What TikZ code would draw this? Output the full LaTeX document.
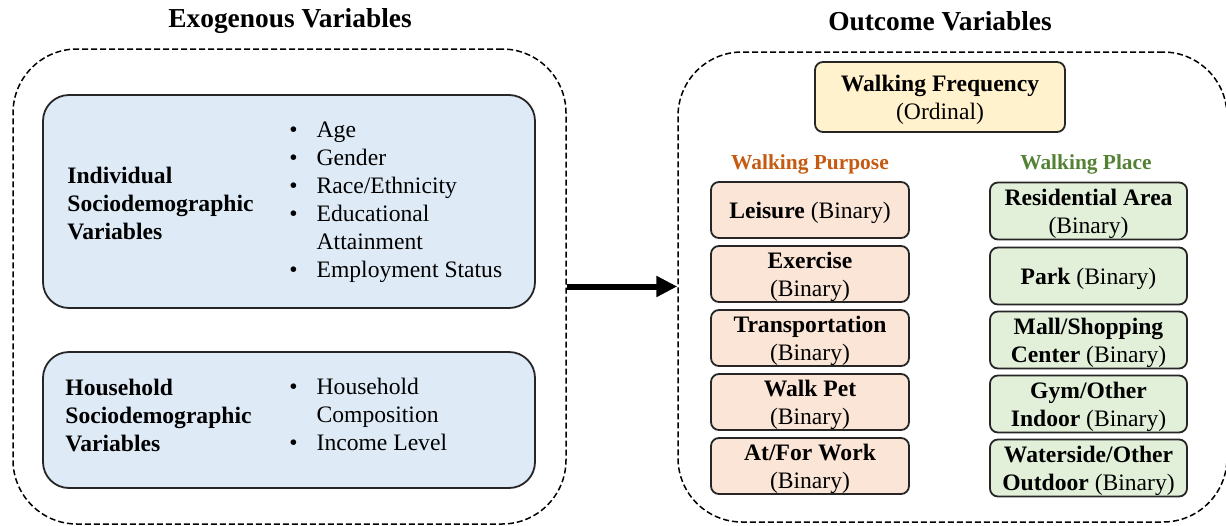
\documentclass[tikz,border=0pt]{standalone}
\usepackage{fontspec}
\setmainfont{Liberation Serif}
\usetikzlibrary{arrows.meta}

\definecolor{exofill}{HTML}{DEEBF7}
\definecolor{freqfill}{HTML}{FFF2CC}
\definecolor{purposefill}{HTML}{FBE5D6}
\definecolor{placefill}{HTML}{E2F0D9}
\definecolor{purposetext}{HTML}{C55A11}
\definecolor{placetext}{HTML}{548235}

\tikzset{
  every node/.style={font=\fontsize{11.8}{14}\selectfont, inner sep=0pt},
  heading/.style={font=\fontsize{13.7}{16}\selectfont\bfseries},
  groupbox/.style={draw, line width=0.75pt, dash pattern=on 3pt off 1.5pt, rounded corners=32pt},
  catbox/.style={draw=black!85, line width=0.9pt, fill=exofill, rounded corners=13pt},
  catlabel/.style={anchor=west, align=left, font=\fontsize{11.8}{14}\selectfont\bfseries},
  itemlist/.style={anchor=west},
  varbox/.style={draw=black!85, line width=0.9pt, rounded corners=4pt, align=center, text depth=0pt},
  purposebox/.style={varbox, fill=purposefill, minimum width=99pt, minimum height=28pt},
  placebox/.style={varbox, fill=placefill, minimum width=98.5pt, minimum height=28.5pt},
  grouplabel/.style={font=\fontsize{10.7}{12}\selectfont\bfseries},
  flowarrow/.style={line width=3pt, -{Triangle[length=10.5pt,width=10pt]}}
}

\begin{document}
\begin{tikzpicture}[x=0.5pt,y=-0.5pt]
\useasboundingbox (0,0) rectangle (1226,525);

% titles
\node[heading] (exotitle) at (290,21) {Exogenous Variables};
\node[heading] (outtitle) at (940,21) {Outcome Variables};

% dashed groups
\node[groupbox, minimum width=276.5pt, minimum height=237.5pt] (exo) at (289.5,286.5) {};
\node[groupbox, minimum width=274.5pt, minimum height=235pt] (out) at (952.5,287) {};

% exogenous side
\node[catbox, minimum width=246pt, minimum height=106.5pt] (indiv) at (289,201.5) {};
\node[catlabel] (indivlabel) at (67,203) {Individual\\Sociodemographic\\Variables};
\node[itemlist] (indivlist) at (289,202) {%
  \begin{tabular}{@{}l@{\hspace{9.5pt}}l@{}}
  \textbullet & Age\\
  \textbullet & Gender\\
  \textbullet & Race/Ethnicity\\
  \textbullet & Educational\\
              & Attainment\\
  \textbullet & Employment Status
  \end{tabular}};

\node[catbox, minimum width=246pt, minimum height=68pt] (house) at (289,420) {};
\node[catlabel] (houselabel) at (65,415) {Household\\Sociodemographic\\Variables};
\node[itemlist] (houselist) at (289,417) {%
  \begin{tabular}{@{}l@{\hspace{9.5pt}}l@{}}
  \textbullet & Household\\
              & Composition\\
  \textbullet & Income Level
  \end{tabular}};

% arrow
\draw[flowarrow] (exo.east) -- (exo.east -| out.west);

% outcome side
\node[varbox, fill=freqfill, minimum width=125pt, minimum height=35pt] (freq) at (940,97) {\textbf{Walking Frequency}\\(Ordinal)};

\node[grouplabel, text=purposetext] (purpose) at (810,164) {Walking Purpose};
\node[grouplabel, text=placetext] (place) at (1086,164) {Walking Place};

\node[purposebox] (leisure) at (810,210) {\textbf{Leisure} (Binary)};
\node[purposebox] (exercise) at (810,274) {\textbf{Exercise}\\(Binary)};
\node[purposebox] (transport) at (810,338) {\textbf{Transportation}\\(Binary)};
\node[purposebox] (walkpet) at (810,402) {\textbf{Walk Pet}\\(Binary)};
\node[purposebox] (atwork) at (810,466) {\textbf{At/For Work}\\(Binary)};

\node[placebox] (residential) at (1088.5,211) {\textbf{Residential Area}\\(Binary)};
\node[placebox] (park) at (1088.5,276) {\textbf{Park} (Binary)};
\node[placebox] (mall) at (1088.5,340) {\textbf{Mall/Shopping}\\\textbf{Center} (Binary)};
\node[placebox] (gym) at (1088.5,404) {\textbf{Gym/Other}\\\textbf{Indoor} (Binary)};
\node[placebox] (waterside) at (1088.5,468) {\textbf{Waterside/Other}\\\textbf{Outdoor} (Binary)};
\end{tikzpicture}
\end{document}
